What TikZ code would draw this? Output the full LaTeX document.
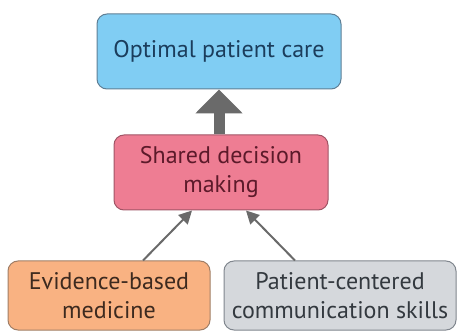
\documentclass[tikz,border=0pt]{standalone}
\usepackage{fontspec}
\setmainfont{PT Sans}
\usetikzlibrary{arrows.meta,calc}
\definecolor{topfill}{HTML}{80CDF3}
\definecolor{topdraw}{HTML}{5F7F95}
\definecolor{toptext}{HTML}{1B3D5C}
\definecolor{midfill}{HTML}{EE7D93}
\definecolor{middraw}{HTML}{A05566}
\definecolor{midtext}{HTML}{5C1A2A}
\definecolor{blfill}{HTML}{F9B282}
\definecolor{bldraw}{HTML}{A07E66}
\definecolor{bltext}{HTML}{3D2A1F}
\definecolor{brfill}{HTML}{D5D8DC}
\definecolor{brdraw}{HTML}{80868E}
\definecolor{brtext}{HTML}{33393F}
\definecolor{arrowgrey}{HTML}{6A6A6A}
\tikzset{
  box/.style={draw, rounded corners=10pt, line width=1pt, align=center,
    inner sep=0pt, font=\fontsize{24}{29}\selectfont},
  bigarrow/.style={draw=arrowgrey, line width=11pt,
    -{Triangle[width=46pt,length=24pt]}},
  smallarrow/.style={draw=arrowgrey, line width=2pt,
    -{Triangle[width=13pt,length=13pt]}}
}
\begin{document}
\begin{tikzpicture}[x=1pt,y=-1pt]
\useasboundingbox (0,0) rectangle (458,331);
\node[box, fill=topfill, draw=topdraw, text=toptext, minimum width=244pt, minimum height=75pt] (top) at (219,51.5) {Optimal patient care};
\node[box, fill=midfill, draw=middraw, text=midtext, minimum width=214pt, minimum height=75pt] (mid) at (221,172.5) {Shared decision\\making};
\node[box, fill=blfill, draw=bldraw, text=bltext, minimum width=202pt, minimum height=69pt] (bl) at (109,295.5) {Evidence-based\\medicine};
\node[box, fill=brfill, draw=brdraw, text=brtext, minimum width=232pt, minimum height=69pt] (br) at (340,295.5) {Patient-centered\\communication skills};
\draw[bigarrow] ($(mid.north)+(-2,0)$) -- (top.south);
\draw[smallarrow] ($(bl.north)+(34,0)$) -- ($(mid.south)+(-29,0)$);
\draw[smallarrow] ($(br.north)+(-45,0)$) -- ($(mid.south)+(25,0)$);
\end{tikzpicture}
\end{document}
